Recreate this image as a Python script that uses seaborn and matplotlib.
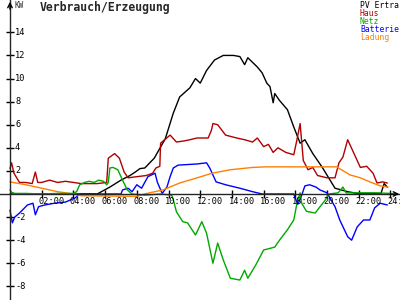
import numpy as np
import pandas as pd
import matplotlib
matplotlib.use("Agg")
import matplotlib.pyplot as plt
import seaborn as sns

# ---- data (hours, kW) ----
pv_t = [0, 5.5, 6.3, 7.0, 7.57, 7.9, 8.2, 8.5, 9.1, 9.8, 10.3, 10.7, 11.35, 11.7, 12.0, 12.4, 12.9, 13.45,
        14.1, 14.5, 14.8, 15.0, 15.6, 15.9, 16.2, 16.4, 16.6, 16.7, 17.0, 17.5, 17.9, 18.3, 18.6, 19.1,
        19.7, 20.1, 20.5, 21.3, 21.9, 23.4, 23.6, 23.8]
pv_v = [0, 0, 0.6, 1.2, 1.6, 1.9, 2.2, 2.25, 3.1, 4.8, 7.0, 8.4, 9.2, 10.0, 9.6, 10.7, 11.6, 12.0,
        12.0, 11.9, 11.2, 11.8, 11.0, 10.5, 9.6, 9.3, 7.9, 8.7, 8.1, 7.3, 5.8, 4.4, 4.7, 3.5,
        2.3, 1.4, 0.5, 0.2, 0.05, 0.05, 0.9, 0.6]

haus_t = [0, 0.1, 0.25, 0.6, 1.0, 1.4, 1.6, 1.75, 2.0, 2.5, 3.0, 3.5, 4.0, 4.5, 5.0, 5.5, 6.1, 6.2,
          6.6, 6.9, 7.2, 7.45, 8.0, 8.6, 9.0, 9.2, 9.45, 9.5, 10.1, 10.5, 11.0, 11.35, 11.8, 12.5,
          12.7, 12.8, 13.1, 13.6, 14.3, 14.8, 15.3, 15.6, 16.0, 16.3, 16.6, 16.9, 17.4, 17.9, 18.1,
          18.3, 18.5, 18.8, 19.1, 19.4, 20.0, 20.5, 20.75, 21.0, 21.3, 21.6, 22.1, 22.5, 22.9, 23.15,
          23.5, 23.8]
haus_v = [2.2, 2.7, 1.8, 1.0, 1.0, 0.9, 1.9, 1.0, 1.0, 1.2, 1.0, 1.1, 1.0, 0.9, 0.9, 0.9, 1.0, 3.1,
          3.5, 3.1, 1.9, 1.4, 1.5, 1.6, 1.8, 2.25, 2.4, 4.4, 5.1, 4.5, 4.6, 4.7, 4.85, 4.85,
          5.5, 6.1, 6.0, 5.1, 4.85, 4.7, 4.5, 4.85, 4.1, 4.3, 3.6, 4.0, 3.6, 3.4, 4.7,
          6.1, 2.9, 2.1, 2.3, 1.6, 1.4, 1.4, 2.7, 3.2, 4.7, 3.8, 2.3, 2.4, 1.8, 0.95,
          1.05, 0.95]

netz_t = [0, 0.1, 0.3, 1.0, 2.0, 3.0, 4.0, 4.2, 4.4, 4.7, 5.0, 5.3, 5.6, 5.9, 6.1, 6.2, 6.3, 6.5, 6.8,
          7.1, 7.4, 7.7, 8.5, 9.5, 10.2, 10.3, 10.5, 10.9, 11.2, 11.7, 12.1, 12.4, 12.8, 13.1, 13.45,
          13.9, 14.5, 14.8, 15.0, 15.5, 16.0, 16.7, 17.0, 17.5, 17.9, 18.1, 18.3, 18.4, 18.7, 19.25,
          19.5, 19.9, 20.1, 20.7, 21.0, 21.2, 22.0, 23.0, 24.0]
netz_v = [0.35, 0.15, 0.05, 0.05, 0.0, 0.05, 0.05, 0.2, 0.8, 1.0, 1.1, 1.0, 1.2, 1.1, 0.8, 1.0, 2.25,
          2.3, 2.1, 1.2, 0.35, 0.0, -0.1, 0.0, -0.1, -0.5, -1.55, -2.4, -2.5, -3.55, -2.4, -3.4, -6.0,
          -4.25, -5.7, -7.3, -7.45, -6.6, -7.3, -6.15, -4.85, -4.6, -4.0, -3.1, -2.25, -0.8, 0.1,
          -0.8, -1.5, -1.65, -1.2, -0.5, 0.0, 0.1, 0.6, 0.1, 0.1, 0.1, 0.05]

batt_t = [0, 0.15, 0.3, 0.6, 1.1, 1.45, 1.6, 1.8, 2.2, 2.8, 3.5, 4.1, 4.4, 7.0, 7.1, 7.45, 7.7, 8.0,
          8.3, 8.7, 9.15, 9.3, 9.6, 9.9, 10.1, 10.3, 10.6, 11.8, 12.4, 12.6, 13.0, 13.6, 14.5, 15.3,
          15.9, 17.9, 18.15, 18.35, 18.6, 18.9, 19.3, 19.55, 20.0, 20.5, 20.8, 21.3, 21.55, 21.9,
          22.3, 22.7, 23.0, 23.35, 23.8]
batt_v = [-1.4, -2.5, -2.0, -1.65, -0.95, -0.8, -1.8, -1.1, -0.95, -0.8, -0.7, -0.35, 0, 0, 0.35,
          0.5, 0.2, 0.8, 0.5, 1.5, 1.8, 1.0, 0.05, 0.6, 1.5, 2.25, 2.5, 2.6, 2.7, 2.25, 1.05, 0.8,
          0.5, 0.2, 0, 0, -0.9, -0.3, 0.7, 0.8, 0.6, 0.35, 0.1, -1.1, -2.25, -3.7, -4.0, -2.85,
          -2.25, -2.25, -1.2, -0.8, -0.95]

lad_t = [0, 1, 2, 3, 4, 4.5, 8.0, 8.5, 8.8, 9.65, 10.7, 11.8, 12.75, 13.9, 15.3, 16.1, 20.6, 21.45,
         22.1, 22.7, 23.35, 23.85]
lad_v = [1.05, 0.8, 0.5, 0.2, 0.0, -0.15, -0.2, 0.0, 0.1, 0.35, 0.95, 1.4, 1.8, 2.1, 2.3, 2.35,
         2.35, 1.65, 1.4, 1.05, 0.7, 0.6]

series_names = ["PV Ertra", "Haus", "Netz", "Batterie", "Ladung"]
colors = {"PV Ertra": "#000000", "Haus": "#b00000", "Netz": "#00a800",
          "Batterie": "#0000ff", "Ladung": "#ff8000"}
yticks = [-8, -6, -4, -2, 2, 4, 6, 8, 10, 12, 14]
xticks = [2, 4, 6, 8, 10, 12, 14, 16, 18, 20, 22, 24]
xlabels = ["02:00", "04:00", "06:00", "08:00", "10:00", "12:00", "14:00",
           "16:00", "18:00", "20:00", "22:00", "24:00"]

frames = []
for name, t, v in [("PV Ertra", pv_t, pv_v), ("Haus", haus_t, haus_v),
                   ("Batterie", batt_t, batt_v), ("Ladung", lad_t, lad_v),
                   ("Netz", netz_t, netz_v)]:
    frames.append(pd.DataFrame({"t": t, "kW": v, "series": name}))
df = pd.concat(frames, ignore_index=True)

sns.set_style("white")
plt.rcParams["font.family"] = ["DejaVu Sans Mono"]

fig = plt.figure(figsize=(4, 3), dpi=100)
ax = fig.add_axes([0, 0, 1, 1])
ax.set_xlim(-0.63, 24.6)
ax.set_ylim(-9.18, 16.8)

for name in ["PV Ertra", "Haus", "Batterie", "Ladung", "Netz"]:
    sub = df[df["series"] == name]
    sns.lineplot(data=sub, x="t", y="kW", color=colors[name], lw=1.0,
                 estimator=None, sort=False, ax=ax, legend=False)

for s in ["top", "right"]:
    ax.spines[s].set_visible(False)
ax.spines["left"].set_position(("data", 0))
ax.spines["bottom"].set_position(("data", 0))
ax.spines["left"].set_linewidth(1.0)
ax.spines["bottom"].set_linewidth(1.0)
ax.set_xticks(xticks)
ax.set_yticks(yticks)
ax.set_xticklabels([])
ax.set_yticklabels([])
ax.tick_params(axis="both", direction="inout", length=6, width=1, color="black",
               bottom=True, left=True)
ax.set_xlabel("")
ax.set_ylabel("")

# arrow heads
ax.annotate("", xy=(24.55, 0), xytext=(24.0, 0),
            arrowprops=dict(arrowstyle="->", lw=1.0, color="black",
                            mutation_scale=8, shrinkA=0, shrinkB=0))
ax.annotate("", xy=(0, 16.65), xytext=(0, 16.0),
            arrowprops=dict(arrowstyle="->", lw=1.0, color="black",
                            mutation_scale=8, shrinkA=0, shrinkB=0))

for yv in yticks:
    ax.text(0.32, yv, str(yv), ha="left", va="center", fontsize=6.2, color="black")
for xv, lab in zip(xticks, xlabels):
    ax.text(xv - 0.22, -0.62, lab, ha="left", va="center", fontsize=6.2, color="black")

fig.text(14 / 400, 1 - 6 / 300, "KW", ha="left", va="center", fontsize=5.5)
fig.text(40 / 400, 1 - 8 / 300, "Verbrauch/Erzeugung", ha="left", va="center",
         fontsize=8.3, fontweight="bold")
for i, name in enumerate(series_names):
    fig.text(360 / 400, 1 - (5 + 8 * i) / 300, name, ha="left", va="center",
             fontsize=5.8, color=colors[name])

fig.savefig("out.png", dpi=100, facecolor="white")
